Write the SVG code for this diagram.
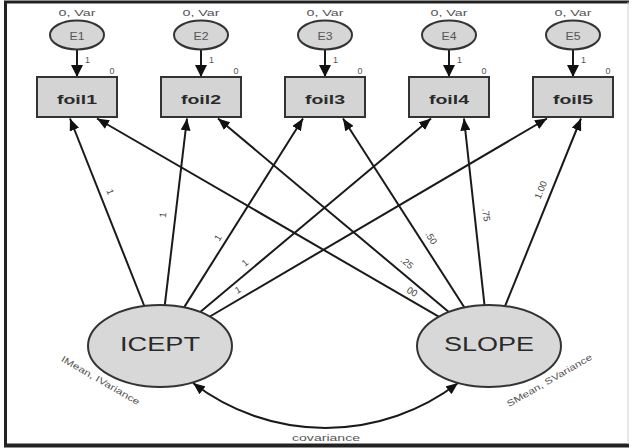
<svg xmlns="http://www.w3.org/2000/svg" width="634" height="448" viewBox="0 0 634 448">
<defs>
<style>
.t{font-family:"Liberation Sans",Arial,sans-serif;}
.box{fill:#d4d4d4;stroke:#333;stroke-width:2;}
.err{fill:#d6d6d6;stroke:#333;stroke-width:2;}
.lat{fill:#d8d8d8;stroke:#333;stroke-width:2;}
.edge{fill:none;stroke:#1a1a1a;stroke-width:2;}
.sm{font-size:9px;fill:#555;}
.lbl{font-size:9.5px;fill:#444;}
.et{font-size:10px;fill:#555;}
.ft{font-size:13px;font-weight:bold;fill:#2a2a2a;}
.bt{font-size:20px;fill:#2a2a2a;}
</style>
<marker id="ahE" viewBox="0 0 12 12" refX="12" refY="6" markerWidth="12" markerHeight="12" markerUnits="userSpaceOnUse" orient="auto-start-reverse"><path d="M0,0 L12,6 L0,12 z" fill="#111"/></marker>
<marker id="ah" viewBox="0 0 12 10" refX="12" refY="5" markerWidth="12" markerHeight="10" markerUnits="userSpaceOnUse" orient="auto-start-reverse"><path d="M0,0 L12,5 L0,10 z" fill="#111"/></marker>
</defs>
<rect x="0" y="0" width="634" height="448" fill="#fff"/>
<g id="frame">
<line x1="4" y1="2" x2="629" y2="2" stroke="#222" stroke-width="3"/>
<line x1="5.5" y1="1" x2="5.5" y2="447" stroke="#222" stroke-width="3"/>
<line x1="4" y1="445.5" x2="629" y2="445.5" stroke="#222" stroke-width="4"/>
<line x1="628" y1="2" x2="628" y2="444" stroke="#cfcfcf" stroke-width="1"/>
</g>
<g id="connectors">
<line class="edge" x1="77" y1="49.5" x2="77" y2="77" marker-end="url(#ahE)"/>
<line class="edge" x1="201" y1="49.5" x2="201" y2="77" marker-end="url(#ahE)"/>
<line class="edge" x1="325" y1="49.5" x2="325" y2="77" marker-end="url(#ahE)"/>
<line class="edge" x1="449" y1="49.5" x2="449" y2="77" marker-end="url(#ahE)"/>
<line class="edge" x1="573" y1="49.5" x2="573" y2="77" marker-end="url(#ahE)"/>
<line class="edge" x1="144.3" y1="306" x2="70" y2="118.5" marker-end="url(#ah)"/>
<line class="edge" x1="164.8" y1="305.1" x2="187" y2="118.5" marker-end="url(#ah)"/>
<line class="edge" x1="184.1" y1="307.4" x2="303" y2="118.5" marker-end="url(#ah)"/>
<line class="edge" x1="200.2" y1="312" x2="431" y2="118.5" marker-end="url(#ah)"/>
<line class="edge" x1="209.9" y1="316.5" x2="547" y2="118.5" marker-end="url(#ah)"/>
<line class="edge" x1="438.7" y1="316.6" x2="97" y2="118.5" marker-end="url(#ah)"/>
<line class="edge" x1="448.8" y1="312" x2="218" y2="118.5" marker-end="url(#ah)"/>
<line class="edge" x1="464.4" y1="307.5" x2="343" y2="118.5" marker-end="url(#ah)"/>
<line class="edge" x1="484.5" y1="305.1" x2="464" y2="118.5" marker-end="url(#ah)"/>
<line class="edge" x1="505.1" y1="306" x2="581" y2="118.5" marker-end="url(#ah)"/>
<path class="edge" d="M193,383 A218,218 0 0 0 458,383" stroke-width="1.6" marker-start="url(#ah)" marker-end="url(#ah)"/>
<g class="t lbl" text-anchor="middle">
<text transform="translate(110,192) rotate(69)" y="3">1</text>
<text transform="translate(163,215) rotate(-83)" y="3">1</text>
<text transform="translate(218,238) rotate(-58)" y="3">1</text>
<text transform="translate(245,263) rotate(-40)" y="3">1</text>
<text transform="translate(238,290) rotate(-31)" y="3">1</text>
<text transform="translate(412,292) rotate(30)" y="3">00</text>
<text transform="translate(407,263) rotate(40)" y="3">.25</text>
<text transform="translate(431,238) rotate(57.5)" y="3">.50</text>
<text transform="translate(486,215) rotate(84)" y="3">.75</text>
<text transform="translate(541,190) rotate(-68)" y="3">1.00</text>
</g>
<text class="t sm" x="326" y="441" text-anchor="middle" textLength="68" lengthAdjust="spacingAndGlyphs">covariance</text>
</g>
<g id="E1"><text class="t sm" x="77" y="15.5" text-anchor="middle" textLength="37" lengthAdjust="spacingAndGlyphs">0, Var</text><ellipse class="err" cx="77" cy="35" rx="27" ry="14.5"/><text class="t et" x="77" y="39.5" text-anchor="middle" textLength="15" lengthAdjust="spacingAndGlyphs">E1</text><text class="t sm" x="85" y="63">1</text></g>
<g id="E2"><text class="t sm" x="201" y="15.5" text-anchor="middle" textLength="37" lengthAdjust="spacingAndGlyphs">0, Var</text><ellipse class="err" cx="201" cy="35" rx="27" ry="14.5"/><text class="t et" x="201" y="39.5" text-anchor="middle" textLength="15" lengthAdjust="spacingAndGlyphs">E2</text><text class="t sm" x="209" y="63">1</text></g>
<g id="E3"><text class="t sm" x="325" y="15.5" text-anchor="middle" textLength="37" lengthAdjust="spacingAndGlyphs">0, Var</text><ellipse class="err" cx="325" cy="35" rx="27" ry="14.5"/><text class="t et" x="325" y="39.5" text-anchor="middle" textLength="15" lengthAdjust="spacingAndGlyphs">E3</text><text class="t sm" x="333" y="63">1</text></g>
<g id="E4"><text class="t sm" x="449" y="15.5" text-anchor="middle" textLength="37" lengthAdjust="spacingAndGlyphs">0, Var</text><ellipse class="err" cx="449" cy="35" rx="27" ry="14.5"/><text class="t et" x="449" y="39.5" text-anchor="middle" textLength="15" lengthAdjust="spacingAndGlyphs">E4</text><text class="t sm" x="457" y="63">1</text></g>
<g id="E5"><text class="t sm" x="573" y="15.5" text-anchor="middle" textLength="37" lengthAdjust="spacingAndGlyphs">0, Var</text><ellipse class="err" cx="573" cy="35" rx="27" ry="14.5"/><text class="t et" x="573" y="39.5" text-anchor="middle" textLength="15" lengthAdjust="spacingAndGlyphs">E5</text><text class="t sm" x="581" y="63">1</text></g>
<g id="foil1"><rect class="box" x="37" y="77" width="80" height="40"/><text class="t ft" x="77" y="104" text-anchor="middle" textLength="40" lengthAdjust="spacingAndGlyphs">foil1</text><text class="t sm" x="112" y="73.5" text-anchor="middle">0</text></g>
<g id="foil2"><rect class="box" x="161" y="77" width="80" height="40"/><text class="t ft" x="201" y="104" text-anchor="middle" textLength="40" lengthAdjust="spacingAndGlyphs">foil2</text><text class="t sm" x="236" y="73.5" text-anchor="middle">0</text></g>
<g id="foil3"><rect class="box" x="285" y="77" width="80" height="40"/><text class="t ft" x="325" y="104" text-anchor="middle" textLength="40" lengthAdjust="spacingAndGlyphs">foil3</text><text class="t sm" x="360" y="73.5" text-anchor="middle">0</text></g>
<g id="foil4"><rect class="box" x="409" y="77" width="80" height="40"/><text class="t ft" x="449" y="104" text-anchor="middle" textLength="40" lengthAdjust="spacingAndGlyphs">foil4</text><text class="t sm" x="484" y="73.5" text-anchor="middle">0</text></g>
<g id="foil5"><rect class="box" x="533" y="77" width="80" height="40"/><text class="t ft" x="573" y="104" text-anchor="middle" textLength="40" lengthAdjust="spacingAndGlyphs">foil5</text><text class="t sm" x="608" y="73.5" text-anchor="middle">0</text></g>
<g id="ICEPT"><ellipse class="lat" cx="160" cy="346" rx="72" ry="41"/><text class="t bt" x="160" y="350.5" text-anchor="middle" textLength="80" lengthAdjust="spacingAndGlyphs">ICEPT</text><text class="t sm" transform="translate(99,383) rotate(30)" text-anchor="middle" textLength="89" lengthAdjust="spacingAndGlyphs">IMean, IVariance</text></g>
<g id="SLOPE"><ellipse class="lat" cx="489" cy="346" rx="72" ry="41"/><text class="t bt" x="489" y="350.5" text-anchor="middle" textLength="90" lengthAdjust="spacingAndGlyphs">SLOPE</text><text class="t sm" transform="translate(551,383) rotate(-30)" text-anchor="middle" textLength="97" lengthAdjust="spacingAndGlyphs">SMean, SVariance</text></g>
</svg>
